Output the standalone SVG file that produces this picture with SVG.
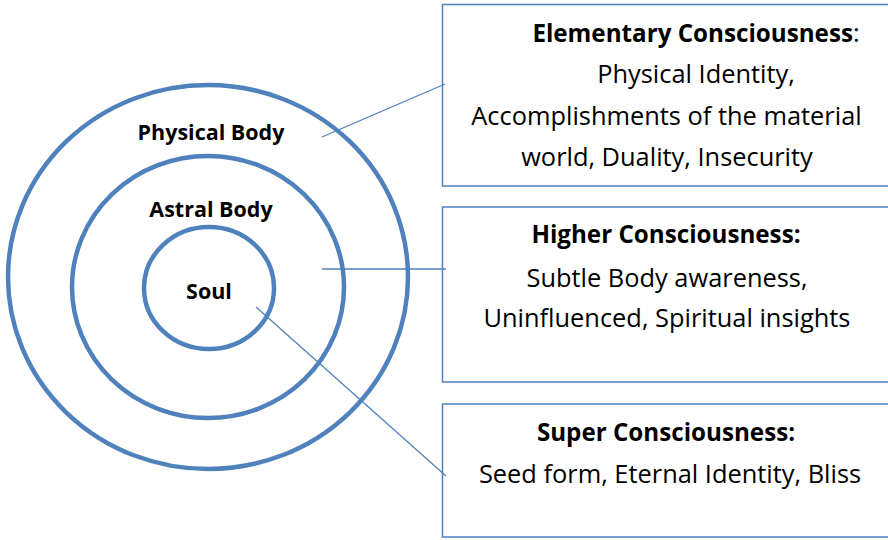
<svg xmlns="http://www.w3.org/2000/svg" width="888" height="540" viewBox="0 0 888 540">
<style>
.ring{fill:none;stroke:#4f81bd;stroke-width:4.5}
.box{fill:#fff;stroke:#4f81bd;stroke-width:1.5}
.conn{stroke:#4f81bd;stroke-width:1.3;fill:none}
.lbl{font-family:"Open Sans","Noto Sans",sans-serif;font-weight:bold;font-size:21.5px;fill:#000;text-anchor:middle}
.t{font-family:"Open Sans","Noto Sans",sans-serif;font-size:25.4px;fill:#000;text-anchor:middle}
.b{font-weight:bold;font-size:24.2px}
</style>
<rect width="888" height="540" fill="#fff"/>
<g id="physical-body">
<ellipse class="ring" cx="208" cy="277" rx="200" ry="192"/>
<text class="lbl" x="211" y="140">Physical Body</text>
</g>
<g id="astral-body">
<ellipse class="ring" cx="208" cy="287" rx="136" ry="131"/>
<text class="lbl" x="211" y="217">Astral Body</text>
</g>
<g id="soul">
<ellipse class="ring" cx="209" cy="288" rx="65" ry="61"/>
<text class="lbl" x="209" y="299">Soul</text>
</g>
<g id="elementary">
<rect class="box" x="442.5" y="4.5" width="460" height="181.5"/>
<text class="t" x="696" y="42"><tspan class="b">Elementary Consciousness</tspan>:</text>
<text class="t" x="696" y="83">Physical Identity,</text>
<text class="t" x="666.5" y="125">Accomplishments of the material</text>
<text class="t" x="667" y="166">world, Duality, Insecurity</text>
</g>
<g id="higher">
<rect class="box" x="442.5" y="207" width="460" height="175"/>
<text class="t b" x="666" y="243">Higher Consciousness:</text>
<text class="t" x="667" y="287">Subtle Body awareness,</text>
<text class="t" x="667" y="327">Uninfluenced, Spiritual insights</text>
</g>
<g id="super">
<rect class="box" x="442.5" y="404" width="460" height="133"/>
<text class="t b" x="666" y="441">Super Consciousness:</text>
<text class="t" x="670" y="483">Seed form, Eternal Identity, Bliss</text>
</g>
<g id="connectors">
<line class="conn" x1="322" y1="137" x2="445" y2="84"/>
<line class="conn" x1="322" y1="269" x2="446" y2="269"/>
<line class="conn" x1="256" y1="307" x2="446" y2="476"/>
</g>
</svg>
